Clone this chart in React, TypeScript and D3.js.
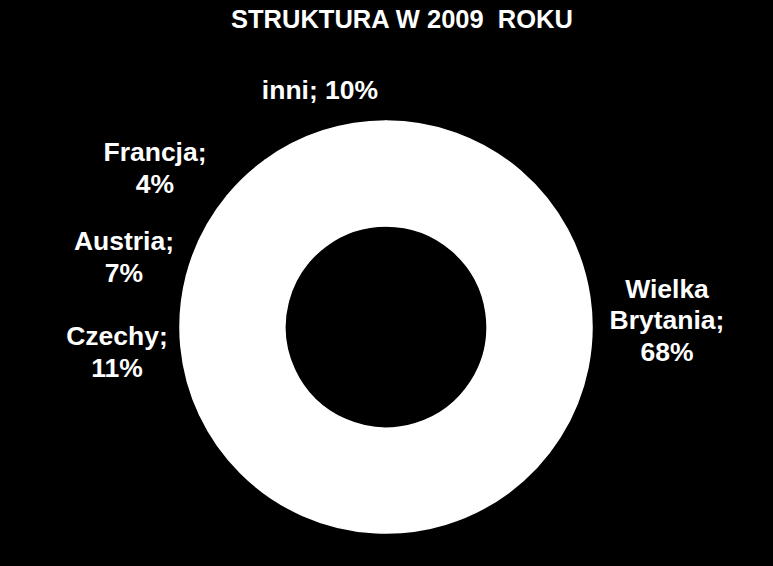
import React, { useEffect, useRef } from "react";
import * as d3 from "d3";

// slice data (clockwise from 12 o'clock)
const countries = ["Wielka Brytania", "Czechy", "Austria", "Francja", "inni"];
const shares = [68, 11, 7, 4, 10];
// how each label is broken into lines
const labelLines = [
  ["Wielka", "Brytania;", "68%"],
  ["Czechy;", "11%"],
  ["Austria;", "7%"],
  ["Francja;", "4%"],
  ["inni; 10%"],
];
const title = "STRUKTURA W 2009\u00a0 ROKU";

const DonutChart: React.FC = () => {
  const svgRef = useRef<SVGSVGElement>(null);

  useEffect(() => {
    if (!svgRef.current) return;
    document.body.style.margin = "0";

    const width = 773;
    const height = 566;
    const cx = 386;
    const cy = 327;
    const outerR = 206;
    const innerR = 101;
    // label centres (Excel "best fit" placement)
    const labelPos: [number, number][] = [
      [667, 320],
      [117, 352],
      [124, 257],
      [155, 168],
      [320, 90],
    ];

    const svg = d3.select(svgRef.current);
    svg.selectAll("*").remove();
    svg.attr("width", width).attr("height", height);

    svg.append("rect").attr("width", width).attr("height", height).attr("fill", "#000");

    svg
      .append("text")
      .attr("x", 402)
      .attr("y", 28)
      .attr("text-anchor", "middle")
      .attr("fill", "#fff")
      .attr("font-family", "'Liberation Sans', Arial, sans-serif")
      .attr("font-weight", "bold")
      .attr("font-size", 25.5)
      .style("white-space", "pre")
      .text(title);

    const pie = d3.pie<number>().sort(null).value((d: number) => d);
    const arc = d3.arc<d3.PieArcDatum<number>>().innerRadius(innerR).outerRadius(outerR);

    const g = svg.append("g").attr("transform", `translate(${cx},${cy})`);
    g.selectAll("path")
      .data(pie(shares))
      .join("path")
      .attr("d", arc)
      .attr("fill", "#fff")
      .attr("stroke", "#fff")
      .attr("stroke-width", 1.5)
      .attr("stroke-linejoin", "round");

    const lineH = 31.5;
    countries.forEach((name, i) => {
      const lines = labelLines[i];
      const [x, y] = labelPos[i];
      const t = svg
        .append("text")
        .attr("text-anchor", "middle")
        .attr("fill", "#fff")
        .attr("font-family", "'Liberation Sans', Arial, sans-serif")
        .attr("font-weight", "bold")
        .attr("font-size", 26.5)
        .attr("aria-label", `${name}; ${shares[i]}%`);
      const top = y - ((lines.length - 1) * lineH) / 2 + 9;
      lines.forEach((ln, j) => {
        t.append("tspan").attr("x", x).attr("y", top + j * lineH).text(ln);
      });
    });
  }, []);

  return <svg ref={svgRef} style={{ display: "block" }}></svg>;
};

export default function App() {
  return <DonutChart />;
}
